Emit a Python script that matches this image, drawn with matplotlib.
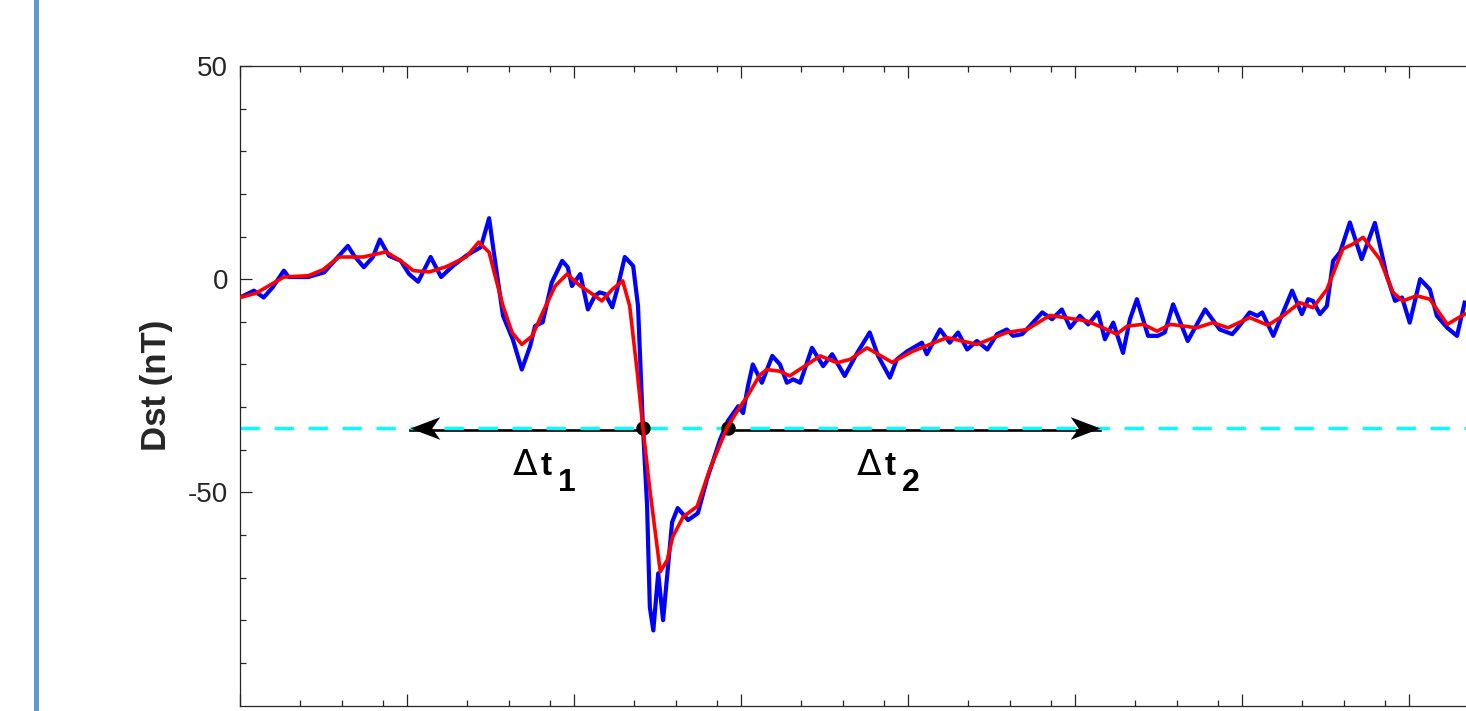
import matplotlib.pyplot as plt
from matplotlib.patches import Rectangle
from matplotlib.path import Path
from matplotlib.markers import MarkerStyle
from matplotlib.ticker import MultipleLocator, FixedLocator

plt.rcParams['font.family'] = ['Liberation Sans', 'DejaVu Sans']
plt.rcParams['axes.unicode_minus'] = False

# Dst index (nT) against hours from the start of the window
t_obs = [0.0, 2.0, 3.4, 4.7, 6.3, 7.0, 9.8, 12.1, 13.4, 15.5, 16.4, 17.8, 19.1, 20.1,
         21.4, 23.1, 24.3, 25.6, 27.4, 28.9, 30.6, 32.5, 34.6, 35.8, 36.5, 37.8, 39.2,
         40.5, 41.7, 42.4, 43.5, 44.8, 46.3, 47.1, 47.7, 48.9, 50.0, 51.0, 51.7, 52.5,
         53.5, 54.2, 55.3, 56.5, 57.2, 57.9, 58.5, 58.9, 59.4, 60.1, 60.8, 62.1, 62.9,
         64.4, 65.8, 67.1, 69.0, 70.1, 71.6, 72.3, 73.0, 73.7, 75.0, 76.5, 77.6, 78.6,
         79.5, 80.5, 82.2, 83.8, 85.1, 86.9, 88.7, 90.5, 91.7, 93.4, 94.4, 95.9, 98.0,
         98.7, 100.6, 102.0, 103.2, 104.5, 105.9, 107.4, 108.8, 110.2, 111.1, 112.4,
         113.5, 115.3, 116.7, 118.1, 119.3, 120.7, 121.9, 123.3, 124.3, 125.5, 126.9,
         127.9, 128.9, 130.5, 131.9, 132.9, 134.1, 136.2, 138.7, 140.8, 142.6, 143.4,
         145.1, 146.2, 146.9, 148.5, 149.9, 151.2, 152.6, 153.5, 154.2, 155.2, 156.2,
         157.1, 158.1, 159.5, 161.2, 163.1, 164.8, 166.0, 167.0, 168.1, 169.6, 171.0,
         172.0, 173.5, 174.9, 176.0]
dst_obs = [-4.3, -2.7, -4.3, -1.9, 2.0, 0.5, 0.5, 1.6, 4.0, 7.8, 5.5, 2.8, 5.2, 9.3,
           5.5, 4.3, 1.2, -0.6, 5.2, 0.5, 3.1, 5.5, 7.5, 14.3, 6.0, -8.6, -14.1,
           -21.2, -15.7, -11.0, -10.1, -0.8, 4.3, 2.8, -1.6, 1.2, -7.1, -3.9, -3.1, -3.5,
           -6.6, -2.4, 5.2, 3.1, -6.3, -34.5, -53.0, -77.0, -82.4, -69.0, -80.0, -57.0, -53.7,
           -56.5, -54.9, -47.0, -37.6, -33.3, -29.8, -31.4, -25.1, -20.0, -24.3, -18.0, -20.0, -24.3,
           -23.5, -24.3, -16.1, -20.4, -17.6, -22.7, -17.3, -12.5, -18.0, -23.1, -18.8, -16.9, -14.9,
           -17.6, -11.8, -14.9, -12.5, -16.5, -14.5, -16.5, -12.9, -11.8, -13.3, -12.9,
           -11.0, -7.8, -9.4, -7.1, -11.4, -8.6, -10.6, -7.8, -14.1, -10.2, -17.3,
           -9.4, -4.7, -13.3, -13.3, -12.5, -5.9, -14.5, -7.1, -11.8, -12.9, -11.4,
           -7.8, -8.6, -7.8, -13.3, -7.8, -2.7, -8.2, -4.7, -5.1, -8.2, -6.3,
           4.3, 6.3, 13.3, 4.7, 13.2, 0.8, -5.1, -4.3, -10.2, 0.0, -2.4,
           -8.6, -11.4, -13.3, -5.5]

# smoothed Dst
t_smooth = [0.0, 2.3, 6.3, 9.8, 11.9, 14.2, 17.7, 21.0, 23.1, 24.9, 27.2, 29.6, 32.5,
            34.3, 35.8, 36.4, 37.8, 39.1, 40.5, 42.0, 43.5, 45.3, 47.0, 48.9, 50.3, 52.0,
            53.5, 55.0, 56.0, 57.1, 57.9, 58.9, 60.4, 61.4, 62.2, 63.7, 65.7, 67.5, 70.0,
            71.9, 72.9, 74.7, 75.7, 77.6, 79.0, 83.4, 85.8, 87.7, 90.1, 93.7, 96.7, 101.6,
            105.9, 110.2, 113.1, 116.4, 121.7, 124.0, 126.0, 127.5, 129.8, 131.8, 133.7,
            137.5, 139.8, 142.0, 145.1, 147.7, 149.9, 152.3, 154.2, 156.2, 158.5, 159.9,
            161.4, 163.8, 165.7, 167.1, 169.1, 171.0, 173.5, 176.0]
dst_smooth = [-4.3, -3.3, 0.5, 0.8, 2.2, 5.2, 5.2, 6.4, 4.3, 2.0, 1.7, 2.9, 5.2,
              8.7, 6.3, 2.4, -6.3, -12.5, -15.3, -13.3, -7.8, -1.6, 1.2, -1.6, -3.1, -5.1,
              -2.4, -0.4, -6.3, -22.0, -34.8, -49.4, -68.6, -65.9, -60.4, -55.7, -53.3, -44.7, -34.8,
              -29.8, -27.5, -22.5, -21.2, -21.6, -22.7, -18.0, -19.6, -18.8, -16.1, -19.5, -16.9, -13.7,
              -15.3, -12.5, -11.8, -8.5, -9.8, -11.4, -12.9, -11.0, -10.6, -12.2, -10.6,
              -11.4, -10.2, -11.4, -9.0, -10.8, -8.6, -5.5, -6.7, -2.4, 7.1, 8.2,
              9.8, 4.7, -3.1, -5.1, -3.9, -4.7, -10.6, -8.2]

threshold = -35
t_cross = [57.9, 70.1]      # where the smoothed curve crosses the threshold
t_limits = [24.4, 123.6]    # ends of the dt1 / dt2 arrows

fig = plt.figure(figsize=(14.66, 7.11), dpi=100)
fig.add_artist(Rectangle((34 / 1466, 0), 5 / 1466, 1, transform=fig.transFigure,
                         color='#5B9BD5', lw=0))

ax = fig.add_axes([240 / 1466, 5.5 / 711, 1336 / 1466, 639.5 / 711])
ax.set_xlim(0, 192)
ax.set_ylim(-100, 50)

ax.plot(t_obs, dst_obs, color='#0000FF', lw=3.0, solid_joinstyle='round', zorder=2)

# threshold line and the two interval arrows
ax.plot([t_cross[0], t_limits[0]], [threshold - 0.3] * 2, color='k', lw=1.9, zorder=2.4)
ax.plot([t_cross[1], t_limits[1]], [threshold - 0.3] * 2, color='k', lw=1.9, zorder=2.4)
ax.axhline(threshold, color='#00FFFF', lw=2.4, ls=(0, (5.8, 4.4)), zorder=2.5)

head = Path([(0, 0), (-1, 0.38), (-0.73, 0), (-1, -0.38), (0, 0)],
            [Path.MOVETO, Path.LINETO, Path.LINETO, Path.LINETO, Path.CLOSEPOLY])
head_left = Path(head.vertices * [-1, 1], head.codes)
ax.plot(t_limits[0], threshold, marker=MarkerStyle(head_left), ms=43, color='k', mew=0, zorder=2.6)
ax.plot(t_limits[1], threshold, marker=MarkerStyle(head), ms=43, color='k', mew=0, zorder=2.6)
ax.plot(t_cross, [threshold] * 2, 'o', color='k', ms=9.4, zorder=2.7)

ax.plot(t_smooth, dst_smooth, color='#FF0000', lw=2.6, solid_joinstyle='round', zorder=3)

for x0, sub in [(39.2, '1'), (88.7, '2')]:
    ax.annotate('\u0394', xy=(x0, -45.9), xytext=(0, 0), textcoords='offset points',
                ha='left', va='baseline', fontsize=26, family='DejaVu Sans', color='k')
    ax.annotate('t', xy=(x0, -45.9), xytext=(20.0, 0), textcoords='offset points',
                ha='left', va='baseline', fontsize=24, fontweight='bold', color='k')
    ax.annotate(sub, xy=(x0, -45.9), xytext=(32.3, -11.5), textcoords='offset points',
                ha='left', va='baseline', fontsize=23, fontweight='bold', color='k')

ax.xaxis.set_major_locator(MultipleLocator(24))
ax.xaxis.set_minor_locator(FixedLocator([24 * k + m for k in range(8) for m in (8.6, 14.6, 20.6)]))
ax.yaxis.set_major_locator(FixedLocator([-50, 0, 50]))
ax.yaxis.set_minor_locator(FixedLocator([-90, -80, -70, -60, -40, -30, -20, -10, 10, 20, 30, 40]))

for s in ax.spines.values():
    s.set_color('#262626')
    s.set_linewidth(0.9)
ax.tick_params(which='both', direction='in', top=True, right=True, colors='#262626',
               width=0.9, labelsize=20, pad=8.6, labelbottom=False)
ax.tick_params(which='major', length=8.6)
ax.tick_params(which='minor', length=4.3)

ax.set_ylabel('Dst (nT)', fontsize=25, fontweight='bold', color='#262626', labelpad=11)

fig.savefig('out.png', dpi=100)
